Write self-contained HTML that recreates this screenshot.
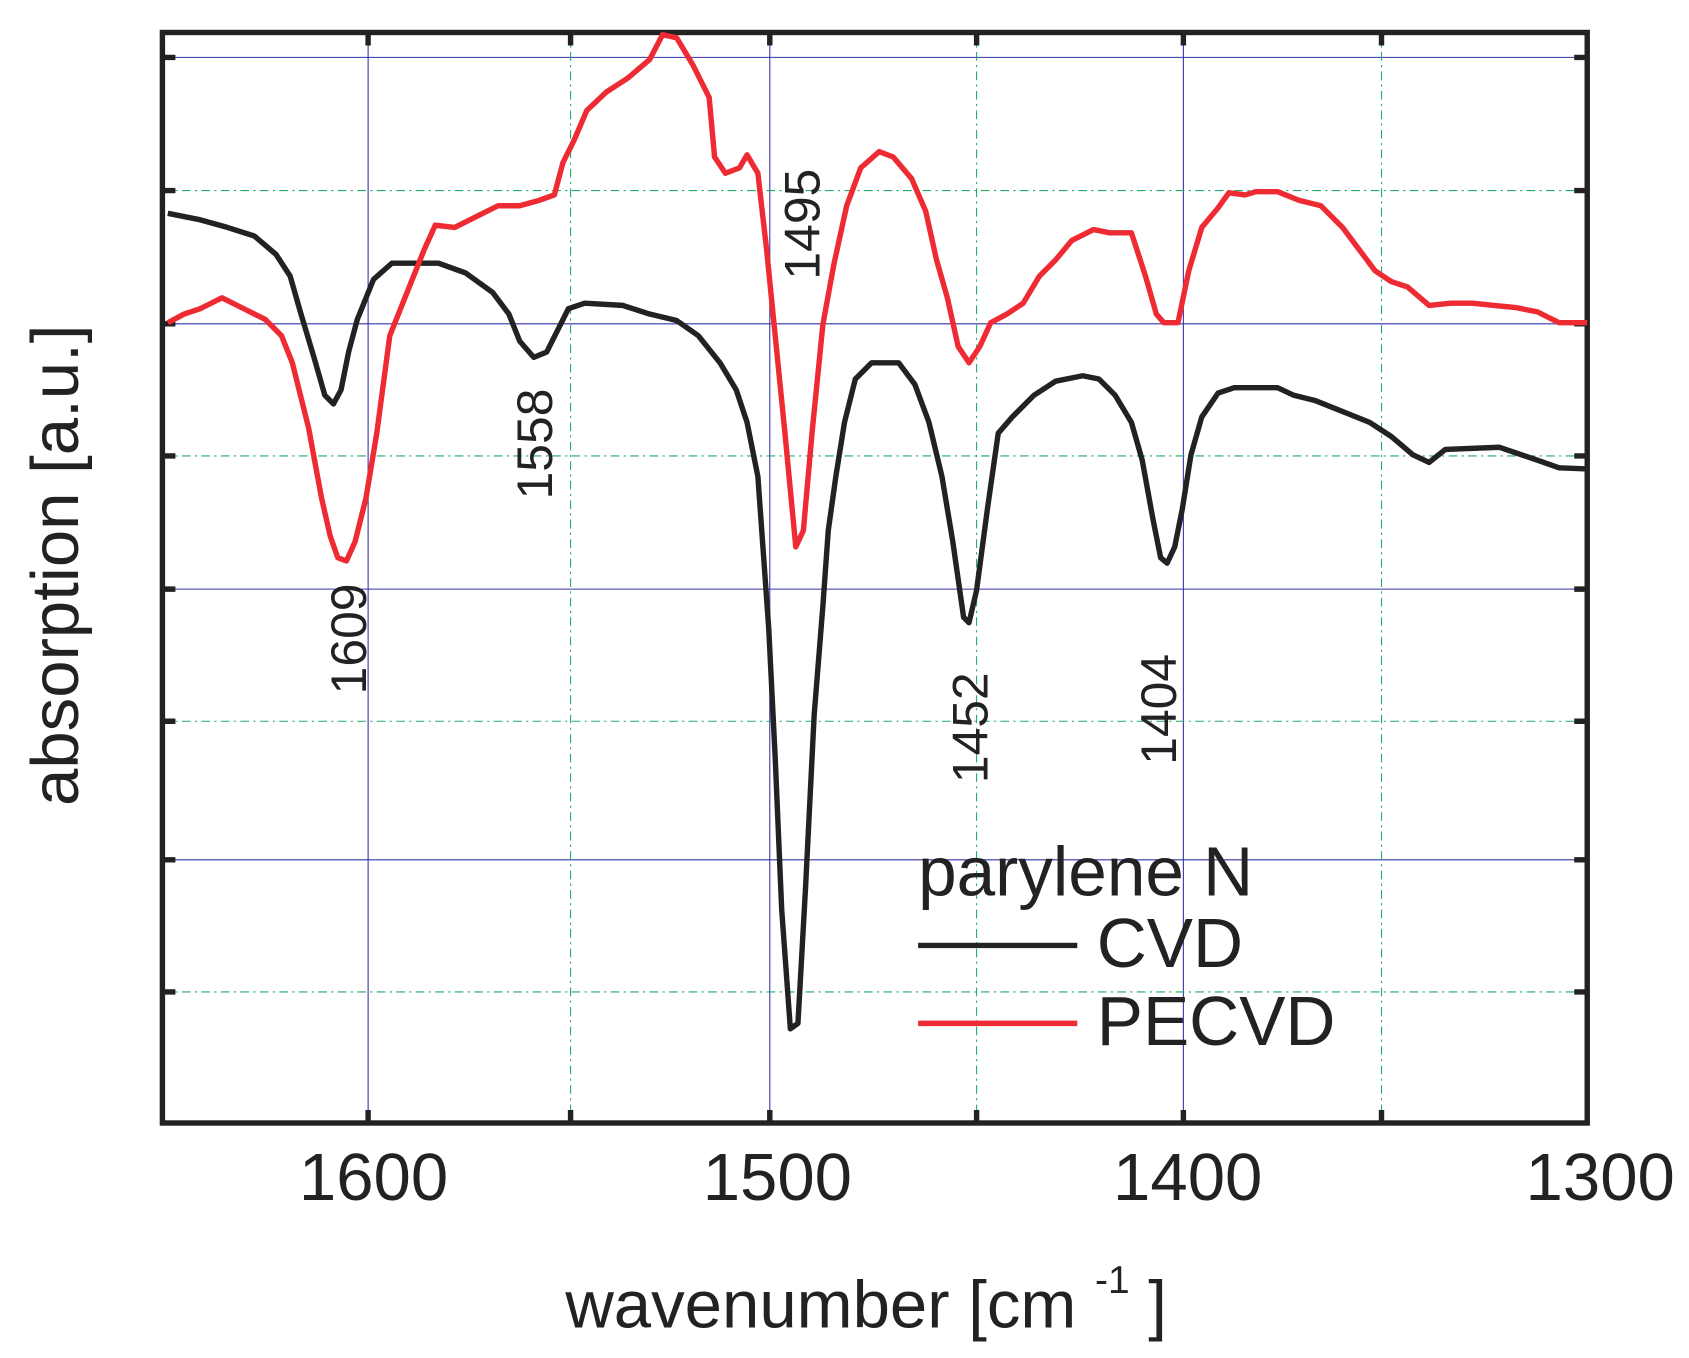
<!DOCTYPE html>
<html><head><meta charset="utf-8"><style>html,body{margin:0;padding:0;background:#fff}svg{display:block}</style></head><body>
<svg width="1689" height="1358" viewBox="0 0 1560 1254" preserveAspectRatio="none" xmlns="http://www.w3.org/2000/svg" font-family="Liberation Sans, sans-serif" fill="#222">
<g stroke="#3333aa" stroke-width="1">
<line x1="150" y1="53" x2="1466" y2="53"/><line x1="150" y1="299" x2="1466" y2="299"/><line x1="150" y1="544" x2="1466" y2="544"/><line x1="150" y1="794" x2="1466" y2="794"/>
<line x1="340" y1="30" x2="340" y2="1037"/><line x1="711" y1="30" x2="711" y2="1037"/><line x1="1093" y1="30" x2="1093" y2="1037"/>
</g>
<g stroke="#22aa66" stroke-width="1" stroke-dasharray="8,4,2,4">
<line x1="150" y1="176" x2="1466" y2="176"/><line x1="150" y1="421" x2="1466" y2="421"/><line x1="150" y1="666" x2="1466" y2="666"/><line x1="150" y1="916" x2="1466" y2="916"/>
<line x1="527" y1="30" x2="527" y2="1037"/><line x1="902" y1="30" x2="902" y2="1037"/><line x1="1276" y1="30" x2="1276" y2="1037"/>
</g>
<g stroke="#222" stroke-width="5" fill="none">
<rect x="150" y="30" width="1316" height="1007"/>
<path d="M150 53h12M150 176h12M150 299h12M150 421h12M150 544h12M150 666h12M150 794h12M150 916h12M1466 53h-12M1466 176h-12M1466 299h-12M1466 421h-12M1466 544h-12M1466 666h-12M1466 794h-12M1466 916h-12M340 1037v-12M527 1037v-12M711 1037v-12M902 1037v-12M1093 1037v-12M1276 1037v-12M340 30v12M527 30v12M711 30v12M902 30v12M1093 30v12M1276 30v12"/>
</g>
<polyline fill="none" stroke="#222" stroke-width="5" stroke-linejoin="round" points="155,197 185,203 210,210 235,218 255,235 268,255 278,290 290,330 300,365 308,373 315,360 322,325 330,295 345,258 362,243 405,243 430,252 455,270 470,290 480,315 493,330 505,325 515,305 525,285 540,280 575,282 600,290 625,296 645,310 665,335 680,360 690,390 700,440 710,580 716,700 722,840 730,950 737,945 744,820 752,660 760,560 765,490 772,440 780,390 790,350 805,335 830,335 845,355 858,390 870,440 880,500 890,570 895,575 902,545 912,470 922,400 935,385 955,365 975,352 1000,347 1015,350 1030,365 1045,390 1055,425 1065,480 1072,515 1078,520 1085,505 1092,470 1100,420 1110,385 1125,363 1140,358 1180,358 1195,365 1215,370 1240,380 1265,390 1285,403 1305,420 1320,427 1335,415 1385,413 1420,425 1440,432 1466,433"/>
<polyline fill="none" stroke="#ee2a33" stroke-width="5" stroke-linejoin="round" points="155,298 170,290 185,285 205,275 225,285 245,295 260,310 270,335 285,395 297,460 305,495 312,515 320,518 328,500 338,460 348,400 360,310 370,285 380,260 392,230 402,208 420,210 440,200 460,190 480,190 498,185 512,180 520,150 530,130 542,102 560,85 580,72 600,55 612,32 625,35 640,60 655,90 660,145 670,160 683,155 690,143 700,160 708,230 715,300 725,400 735,505 742,490 750,400 760,300 770,245 782,190 795,155 812,140 825,145 842,165 855,195 865,240 875,275 885,320 895,335 905,320 915,298 930,290 945,280 960,255 975,240 990,222 1010,212 1025,215 1045,215 1058,255 1068,290 1075,298 1088,298 1098,250 1110,210 1125,192 1135,178 1150,180 1160,177 1180,177 1200,185 1220,190 1240,210 1255,230 1270,250 1285,260 1300,265 1320,282 1340,280 1360,280 1380,282 1400,284 1420,288 1440,298 1466,298"/>
<g font-size="62" text-anchor="middle">
<text x="345" y="1108">1600</text><text x="718" y="1108">1500</text><text x="1097" y="1108">1400</text><text x="1478" y="1108">1300</text>
<text x="800" y="1226">wavenumber [cm <tspan font-size="36" dy="-32">-1</tspan><tspan dy="32"> ]</tspan></text>
<text transform="translate(72,522) rotate(-90)">absorption [a.u.]</text>
</g>
<g font-size="46" text-anchor="middle">
<text transform="translate(338,590) rotate(-90)">1609</text>
<text transform="translate(510,410) rotate(-90)">1558</text>
<text transform="translate(757,207) rotate(-90)">1495</text>
<text transform="translate(912,672) rotate(-90)">1452</text>
<text transform="translate(1086,655) rotate(-90)">1404</text>
</g>
<g font-size="64">
<text x="848" y="827">parylene N</text>
<text x="1013" y="893">CVD</text>
<text x="1013" y="965">PECVD</text>
</g>
<line x1="848" y1="873" x2="995" y2="873" stroke="#222" stroke-width="5"/>
<line x1="848" y1="945" x2="995" y2="945" stroke="#ee2a33" stroke-width="5"/>
</svg>
</body></html>
